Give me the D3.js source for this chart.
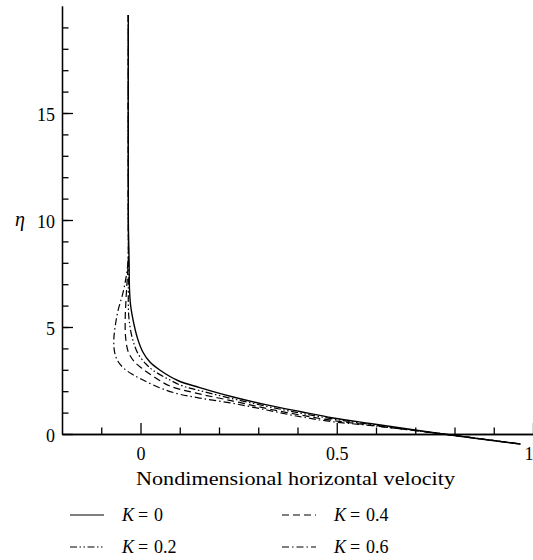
<!DOCTYPE html>
<html>

<head>
  <title>Velocity profiles</title>
  <script src="https://cdn.jsdelivr.net/npm/d3@7"></script>
  <style>
    body { margin: 0; background: #fff; }
    text { font-family: 'Liberation Serif', 'Times New Roman', serif; fill: #000; }
  </style>
</head>

<body>
  <svg width="533" height="560" id="mainsvg"></svg>
  <script>
    // velocity profiles, [u, eta]
    const profileK0 = [[-0.031, 19.58], [-0.031, 10.0], [-0.029, 7.99], [-0.028, 6.73], [-0.025, 5.98], [-0.019, 5.33],
      [-0.008, 4.49], [0.006, 3.83], [0.024, 3.36], [0.049, 2.99], [0.095, 2.50], [0.151, 2.17], [0.236, 1.73],
      [0.322, 1.36], [0.406, 1.05], [0.491, 0.75], [0.585, 0.49], [0.771, 0], [0.968, -0.47]];
    const profileK02 = [[-0.031, 19.58], [-0.031, 10.0], [-0.031, 7.99], [-0.031, 6.73], [-0.031, 5.98], [-0.029, 5.33],
      [-0.021, 4.49], [-0.006, 3.74], [0.014, 3.27], [0.031, 2.99], [0.070, 2.57], [0.108, 2.24], [0.151, 2.03],
      [0.236, 1.64], [0.322, 1.29], [0.406, 0.98], [0.491, 0.70], [0.585, 0.45], [0.771, 0], [0.968, -0.47]];
    const profileK04 = [[-0.031, 19.58], [-0.031, 10.0], [-0.031, 8.13], [-0.034, 7.20], [-0.037, 6.26], [-0.039, 5.33],
      [-0.038, 4.53], [-0.031, 3.83], [-0.017, 3.41], [0.003, 3.08], [0.037, 2.64], [0.075, 2.24], [0.139, 1.92],
      [0.236, 1.54], [0.322, 1.19], [0.406, 0.89], [0.491, 0.63], [0.585, 0.41], [0.771, 0], [0.968, -0.47]];
    const profileK06 = [[-0.031, 19.58], [-0.031, 10.0], [-0.031, 8.36], [-0.034, 7.66], [-0.039, 7.10], [-0.046, 6.50],
      [-0.057, 5.79], [-0.064, 5.09], [-0.068, 4.39], [-0.066, 3.83], [-0.058, 3.41], [-0.043, 3.08], [-0.022, 2.80],
      [-0.002, 2.60], [0.041, 2.22], [0.093, 1.89], [0.151, 1.68], [0.236, 1.43], [0.322, 1.12], [0.406, 0.81],
      [0.491, 0.57], [0.585, 0.40], [0.771, 0], [0.968, -0.47]];

    const kLabels = ['0', '0.2', '0.4', '0.6'];
    const xMajorTicks = [0, 0.5, 1];
    const xMinorTicks = [-0.1, 0.1, 0.2, 0.3, 0.4, 0.6, 0.7, 0.8, 0.9];
    const yMajorTicks = [0, 5, 10, 15];
    const yMinorTicks = d3.range(1, 20);

    const svg = d3.select('#mainsvg');
    const series = [
      { data: profileK0, k: kLabels[0], dash: null },
      { data: profileK02, k: kLabels[1], dash: '7,2.5,1.5,2.5,1.5,2.5' },
      { data: profileK04, k: kLabels[2], dash: '7,4' },
      { data: profileK06, k: kLabels[3], dash: '7,3,1.5,3' }
    ];

    const xScale = d3.scaleLinear().domain([-0.2, 1]).range([62, 533]);
    const yScale = d3.scaleLinear().domain([0, 20]).range([434, 6]);

    // axes: minor ticks first, then major ticks with labels
    const fmtX = d => d === 0 ? '0' : d === 1 ? '1' : d3.format('.1f')(d);
    svg.append('g').attr('transform', 'translate(0,434)')
      .call(d3.axisBottom(xScale).tickValues(xMinorTicks).tickSize(-6.5).tickSizeOuter(0).tickFormat(''));
    svg.append('g').attr('class', 'xmajor').attr('transform', 'translate(0,434)')
      .call(d3.axisBottom(xScale).tickValues(xMajorTicks).tickSize(-11).tickSizeOuter(0).tickPadding(13).tickFormat(fmtX));
    svg.append('g').attr('transform', 'translate(62,0)')
      .call(d3.axisLeft(yScale).tickValues(yMinorTicks).tickSize(-6.5).tickSizeOuter(0).tickFormat(''));
    svg.append('g').attr('class', 'ymajor').attr('transform', 'translate(62,0)')
      .call(d3.axisLeft(yScale).tickValues(yMajorTicks).tickSize(-11).tickSizeOuter(0).tickPadding(7));

    svg.selectAll('.domain, .tick line').attr('stroke', '#000').attr('stroke-width', 1.3);
    svg.selectAll('.tick text').attr('font-size', 18).attr('font-family', "'Liberation Serif', serif").attr('fill', '#000');
    svg.selectAll('.ymajor .tick text').attr('dy', '0.42em');
    // last x label sits at the right edge, keep it inside the picture
    svg.selectAll('.xmajor .tick text').filter(d => d === 1).attr('text-anchor', 'end').attr('x', 0);

    // axis titles
    svg.append('text').attr('x', 136).attr('y', 485)
      .attr('font-size', 18).attr('textLength', 319).attr('lengthAdjust', 'spacingAndGlyphs')
      .text('Nondimensional horizontal velocity');
    svg.append('text').attr('x', 20).attr('y', 226).attr('text-anchor', 'middle')
      .attr('font-size', 20).attr('font-style', 'italic').text('η');

    // curves
    const line = d3.line()
      .x(d => xScale(d[0]))
      .y(d => yScale(d[1]))
      .curve(d3.curveCatmullRom.alpha(0.5));

    svg.append('g').selectAll('path').data(series.slice().reverse()).join('path')
      .attr('fill', 'none')
      .attr('stroke', '#000')
      .attr('stroke-width', d => d.dash ? 1.2 : 1.4)
      .attr('stroke-dasharray', d => d.dash)
      .attr('d', d => line(d.data));

    // legend
    const legendPos = [[70, 515], [70, 547], [282, 515], [282, 547]];
    const legend = svg.append('g').selectAll('g').data(series).join('g')
      .attr('transform', (d, i) => `translate(${legendPos[i][0]},${legendPos[i][1]})`);
    legend.append('line').attr('x1', 0).attr('x2', 34).attr('y1', 0).attr('y2', 0)
      .attr('stroke', '#000').attr('stroke-width', 1.2).attr('stroke-dasharray', d => d.dash);
    const lt = legend.append('text').attr('y', 6).attr('font-size', 18);
    lt.append('tspan').attr('x', 52).attr('font-style', 'italic').text('K');
    lt.append('tspan').attr('x', 68).text('=');
    lt.append('tspan').attr('x', 84).text(d => d.k);
  </script>
</body>

</html>
